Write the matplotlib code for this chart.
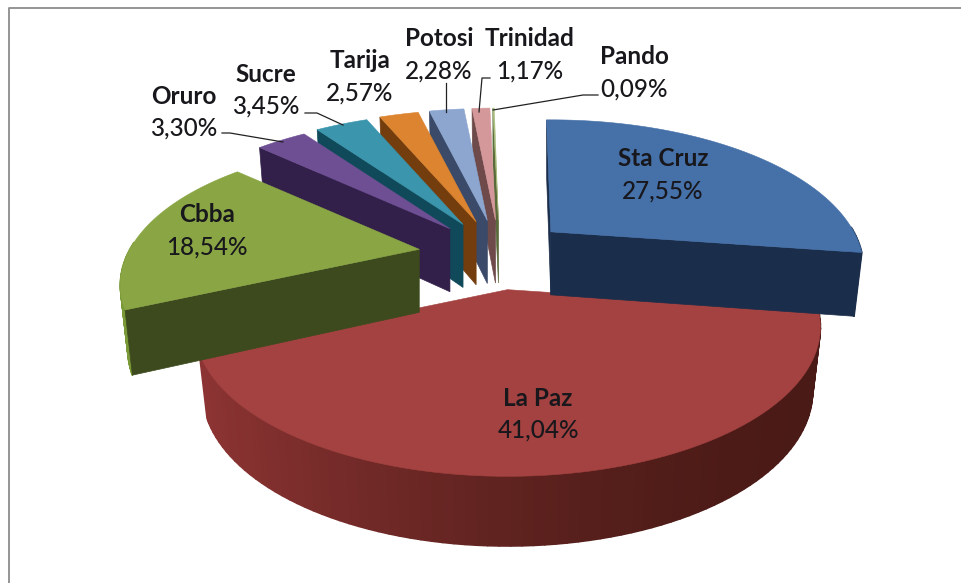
import numpy as np
import matplotlib
matplotlib.use("Agg")
import matplotlib.pyplot as plt
from matplotlib.colors import to_rgb
from matplotlib.patches import Polygon

# --- data ---
names = ["Sta Cruz", "La Paz", "Cbba", "Oruro", "Sucre", "Tarija", "Potosi", "Trinidad", "Pando"]
percents = [27.55, 41.04, 18.54, 3.30, 3.45, 2.57, 2.28, 1.17, 0.09]

# --- style ---
top_colors = ["#4570A8", "#A34240", "#8AA644", "#6F4F94", "#3A95AD", "#DC8430", "#8CA6D0", "#D5989A", "#A8BE7C"]
side_colors = ["#1A2D4A", "#4A1A16", "#3D4A1E", "#32204A", "#104A5A", "#733D0E", "#3A4A68", "#6E4A4A", "#5A6A3A"]
rim_left_colors = ["#1A2D4A", "#8C3433", "#7A9A38", "#32204A", "#104A5A", "#733D0E", "#3A4A68", "#6E4A4A", "#5A6A3A"]
radius_scale = [1.0, 1.0, 0.955, 1.0, 1.0, 1.0, 1.0, 1.0, 1.0]
nudge_x = [0, 3, 0, 6, 6, 6, 6, 6, 6]
draw_order = [1, 0, 8, 7, 6, 5, 4, 3, 2]
label_xy = [(663, 175), (538, 414), (207, 231), (184, 112), (266, 90), (360, 77), (439, 54.5), (530, 54.5), (634, 72.5)]
leaders = {3: [(222, 133), (230, 133), (283, 142)],
           4: [(305, 113), (317, 113), (343, 125)],
           6: [(446, 83), (446, 112)],
           7: [(490, 78), (482, 78), (479, 112)],
           8: [(598, 95), (583, 95), (493, 110)]}

CX, CY = 494.0, 255.0      # pie centre on the canvas
R, RB = 303.0, 140.0       # horizontal and vertical radius
PERSP = 0.25
EXPLODE = 0.25
START_DEG = -1.0


def project(ang, rad, apex):
    x, y = np.sin(ang), np.cos(ang)
    s = 1.0 / (1.0 + PERSP * y)
    return apex[0] + rad * R * x * s, apex[1] - rad * RB * y * s


def lower(px, py, apex):
    y_norm = (apex[1] - py) / RB
    return apex[0] + (px - apex[0]) * 0.975, py + 63.0 - 5.0 * y_norm


fig = plt.figure(figsize=(9.61, 5.83), dpi=100, facecolor="white")
ax = fig.add_axes([0, 0, 1, 1])
ax.set_xlim(0, 961)
ax.set_ylim(583, 0)
ax.axis("off")

ax.plot([8.5, 8.5, 961], [583, 7.5, 7.5], color="#8C8C8C", lw=1.3, solid_capstyle="butt", zorder=1)

edges = np.concatenate([[0.0], np.cumsum(percents)])
edges = edges / edges[-1] * 2 * np.pi + np.radians(START_DEG)

z = 2
for i in draw_order:
    a0, a1 = edges[i], edges[i + 1]
    mid = 0.5 * (a0 + a1)
    apex = (CX + nudge_x[i] + EXPLODE * R * np.sin(mid), CY - EXPLODE * RB * np.cos(mid))
    ang = np.linspace(a0, a1, 90)
    rx, ry = project(ang, radius_scale[i], apex)
    bx, by = lower(rx, ry, apex)
    ax_, ay_ = lower(apex[0], apex[1], apex)
    side = side_colors[i]
    # outer wall (front-facing part only), shaded along the arc
    c_l, c_r = np.array(to_rgb(rim_left_colors[i])), np.array(to_rgb(side))
    xs = rx - apex[0]
    t = np.clip((xs.max() - xs) / max(np.ptp(xs), 1e-6), 0, 1)
    for k in range(len(ang) - 1):
        if np.cos(ang[k]) > 0.05:
            continue
        col = tuple(c_r + (c_l - c_r) * t[k] ** 1.6) if i == 1 else (rim_left_colors[i] if i == 2 else side)
        ax.add_patch(Polygon([(rx[k], ry[k]), (rx[k + 1], ry[k + 1]), (bx[k + 1], by[k + 1]), (bx[k], by[k])],
                             fc=col, ec=col, lw=1.2, joinstyle="round", zorder=z))
    # radial faces that look towards the viewer
    mx, my = rx[len(rx) // 2] - apex[0], ry[len(ry) // 2] - apex[1]
    for k in (0, -1):
        ex, ey = rx[k] - apex[0], ry[k] - apex[1]
        if (ex * my - ey * mx) * ex < 0:
            ax.add_patch(Polygon([apex, (rx[k], ry[k]), (bx[k], by[k]), (ax_, ay_)],
                                 fc=side, ec=side, lw=0.5, zorder=z + 0.2))
    # top face
    ax.add_patch(Polygon(np.vstack([[apex], np.column_stack([rx, ry])]), closed=True,
                         fc=top_colors[i], ec=top_colors[i], lw=0.4, zorder=z + 0.5))
    z += 1

for pts in leaders.values():
    px, py = zip(*pts)
    ax.plot(px, py, color="#222222", lw=0.9, zorder=50)

for n, p, (x, y) in zip(names, percents, label_xy):
    ax.text(x, y - 8.5, n, ha="center", va="baseline", family="Lato", fontsize=17.5,
            fontweight="bold", color="#17171C", zorder=60)
    ax.text(x, y + 24, f"{p:.2f}%".replace(".", ","), ha="center", va="baseline", family="Lato",
            fontsize=17.5, fontweight="medium", color="#17171C", zorder=60)

fig.savefig("out.png", dpi=100, facecolor="white")
